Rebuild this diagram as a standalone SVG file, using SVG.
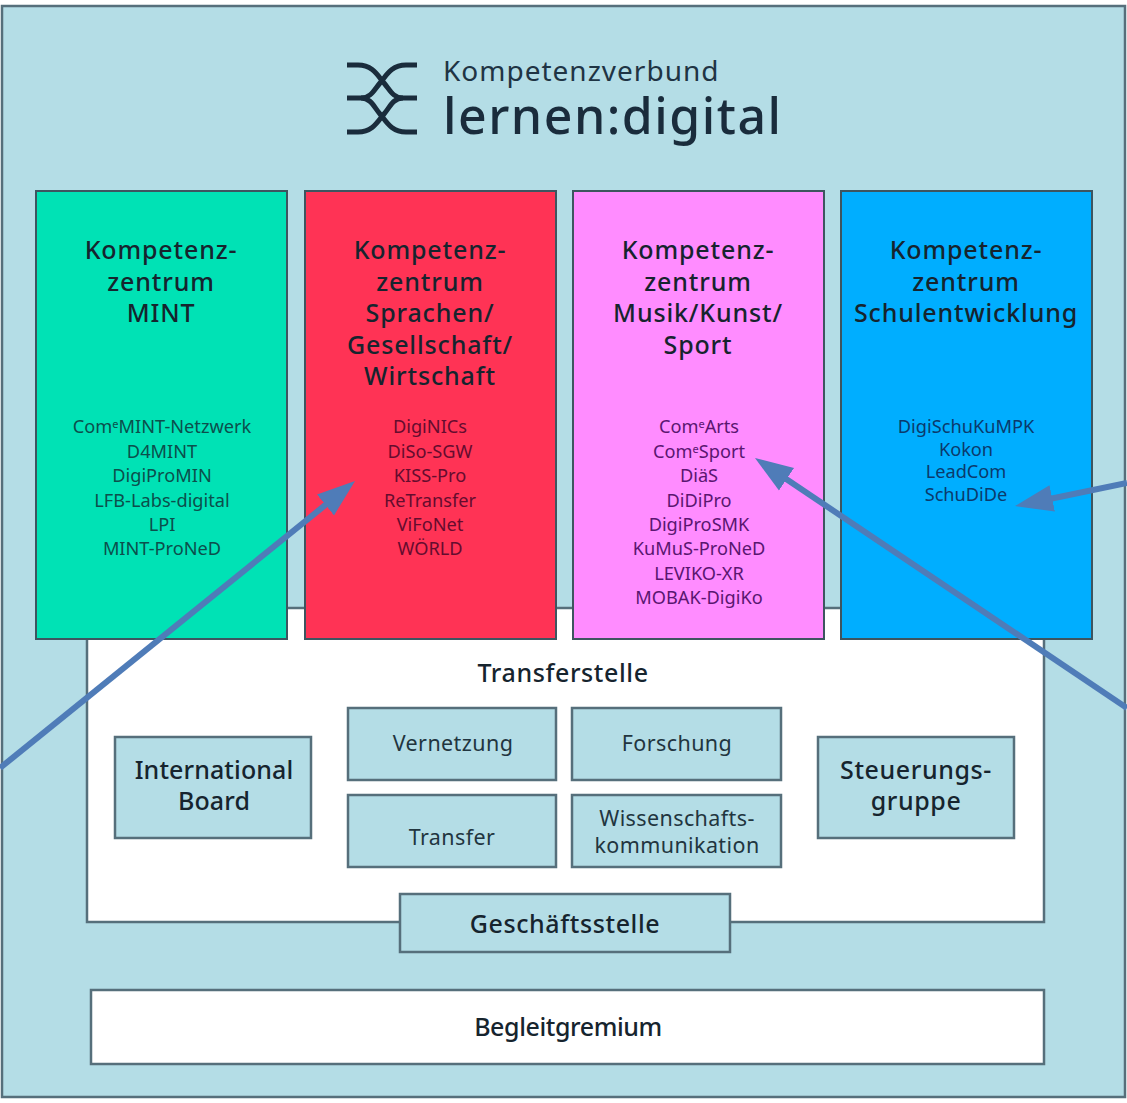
<svg xmlns="http://www.w3.org/2000/svg" width="1127" height="1103" viewBox="0 0 1127 1103">
<style>
text{font-family:"Noto Sans","Liberation Sans",sans-serif;text-anchor:middle;fill:#16242e}
.box{fill:#b4dde6;stroke:#566f7b;stroke-width:2.5}
.wbox{fill:#fff;stroke:#566f7b;stroke-width:2.5}
.col{stroke:#3d5560;stroke-width:2}
.h{font-size:25px;font-weight:500;letter-spacing:.85px}
.i{font-size:18.2px}
.b{font-size:25px;font-weight:500;letter-spacing:.6px}
.m{font-size:21.5px;letter-spacing:.4px;fill:#22353f}
.s{font-size:11px}
.conn{fill:none;stroke:#4f7cb8;stroke-width:6}
.logo{fill:none;stroke:#1a2c3c;stroke-width:5}
#kz-mint .i{fill:#0c4f4c}
#kz-sprachen .i{fill:#650c2e}
#kz-musik .i{fill:#5a1670}
#kz-schule .i{fill:#0b3a6c}
.s{fill:inherit}
</style>
<defs>
<marker id="ah" markerUnits="userSpaceOnUse" markerWidth="40" markerHeight="40" refX="4" refY="20" orient="auto">
<path d="M0,6.5 L38,20 L0,33.5 Z" fill="#4f7cb8"/>
</marker>
</defs>
<rect x="0" y="0" width="1127" height="1103" fill="#fff"/>
<rect id="frame" x="2" y="6" width="1123" height="1091" class="box"/>
<g id="logo">
<path class="logo" d="M347,65H358C373,65 378,76 384,83C390,90 393,98 403,98H417"/>
<path class="logo" d="M417,65H406C391,65 386,76 380,83C374,90 371,98 361,98H347"/>
<path class="logo" d="M347,132H358C373,132 378,121 384,114C390,107 393,98 403,98"/>
<path class="logo" d="M417,132H406C391,132 386,121 380,114C374,107 371,98 361,98"/>
<text x="443" y="81" style="text-anchor:start;font-size:28px;letter-spacing:1px;fill:#1f3444">Kompetenzverbund</text>
<text x="443" y="134" style="text-anchor:start;font-size:50px;font-weight:500;letter-spacing:1.5px;fill:#1a2c3c">lernen:digital</text>
</g>
<g id="transferstelle">
<rect x="87" y="608" width="957" height="314" class="wbox"/>
<text x="563" y="682" class="b">Transferstelle</text>
</g>
<g id="kz-mint">
<rect x="36" y="191" width="251" height="448" class="col" fill="#00e2b5"/>
<text x="161" y="259" class="h">Kompetenz-</text>
<text x="161" y="291" class="h">zentrum</text>
<text x="161" y="322" class="h">MINT</text>
<text x="162" y="433" class="i">Com<tspan class="s" dy="-5">e</tspan><tspan dy="5">MINT-Netzwerk</tspan></text>
<text x="162" y="458" class="i">D4MINT</text>
<text x="162" y="482" class="i">DigiProMIN</text>
<text x="162" y="507" class="i">LFB-Labs-digital</text>
<text x="162" y="531" class="i">LPI</text>
<text x="162" y="555" class="i">MINT-ProNeD</text>
</g>
<g id="kz-sprachen">
<rect x="305" y="191" width="251" height="448" class="col" fill="#ff3355"/>
<text x="430" y="259" class="h">Kompetenz-</text>
<text x="430" y="291" class="h">zentrum</text>
<text x="430" y="322" class="h">Sprachen/</text>
<text x="430" y="354" class="h">Gesellschaft/</text>
<text x="430" y="385" class="h">Wirtschaft</text>
<text x="430" y="433" class="i">DigiNICs</text>
<text x="430" y="458" class="i">DiSo-SGW</text>
<text x="430" y="482" class="i">KISS-Pro</text>
<text x="430" y="507" class="i">ReTransfer</text>
<text x="430" y="531" class="i">ViFoNet</text>
<text x="430" y="555" class="i">WÖRLD</text>
</g>
<g id="kz-musik">
<rect x="573" y="191" width="251" height="448" class="col" fill="#ff8cff"/>
<text x="698" y="259" class="h">Kompetenz-</text>
<text x="698" y="291" class="h">zentrum</text>
<text x="698" y="322" class="h">Musik/Kunst/</text>
<text x="698" y="354" class="h">Sport</text>
<text x="699" y="433" class="i">Com<tspan class="s" dy="-5">e</tspan><tspan dy="5">Arts</tspan></text>
<text x="699" y="458" class="i">Com<tspan class="s" dy="-5">e</tspan><tspan dy="5">Sport</tspan></text>
<text x="699" y="482" class="i">DiäS</text>
<text x="699" y="507" class="i">DiDiPro</text>
<text x="699" y="531" class="i">DigiProSMK</text>
<text x="699" y="555" class="i">KuMuS-ProNeD</text>
<text x="699" y="580" class="i">LEVIKO-XR</text>
<text x="699" y="604" class="i">MOBAK-DigiKo</text>
</g>
<g id="kz-schule">
<rect x="841" y="191" width="251" height="448" class="col" fill="#00aeff"/>
<text x="966" y="259" class="h">Kompetenz-</text>
<text x="966" y="291" class="h">zentrum</text>
<text x="966" y="322" class="h">Schulentwicklung</text>
<text x="966" y="433" class="i">DigiSchuKuMPK</text>
<text x="966" y="456" class="i">Kokon</text>
<text x="966" y="478" class="i">LeadCom</text>
<text x="966" y="501" class="i">SchuDiDe</text>
</g>
<g id="international-board">
<rect x="115" y="737" width="196" height="101" class="box"/>
<text x="214" y="779" class="b" style="letter-spacing:.1px">International</text>
<text x="214" y="810" class="b" style="letter-spacing:.1px">Board</text>
</g>
<g id="vernetzung">
<rect x="348" y="708" width="208" height="72" class="box"/>
<text x="453" y="751" class="m">Vernetzung</text>
</g>
<g id="forschung">
<rect x="572" y="708" width="209" height="72" class="box"/>
<text x="677" y="751" class="m">Forschung</text>
</g>
<g id="transfer">
<rect x="348" y="795" width="208" height="72" class="box"/>
<text x="452" y="845" class="m">Transfer</text>
</g>
<g id="wissenschaftskommunikation">
<rect x="572" y="795" width="209" height="72" class="box"/>
<text x="677" y="826" class="m">Wissenschafts-</text>
<text x="677" y="853" class="m">kommunikation</text>
</g>
<g id="steuerungsgruppe">
<rect x="818" y="737" width="196" height="101" class="box"/>
<text x="916" y="779" class="b">Steuerungs-</text>
<text x="916" y="810" class="b">gruppe</text>
</g>
<g id="geschaeftsstelle">
<rect x="400" y="894" width="330" height="58" class="box"/>
<text x="565" y="933" class="b">Geschäftsstelle</text>
</g>
<g id="begleitgremium">
<rect x="91" y="990" width="953" height="74" class="wbox"/>
<text x="568" y="1036" class="b" style="letter-spacing:-.4px">Begleitgremium</text>
</g>
<g id="connectors">
<path class="conn" marker-end="url(#ah)" d="M0,768 L328.6,502.4"/>
<path class="conn" marker-end="url(#ah)" d="M1127,708 L783.2,477"/>
<path class="conn" marker-end="url(#ah)" d="M1127,483 L1048.3,499.2"/>
</g>
</svg>
